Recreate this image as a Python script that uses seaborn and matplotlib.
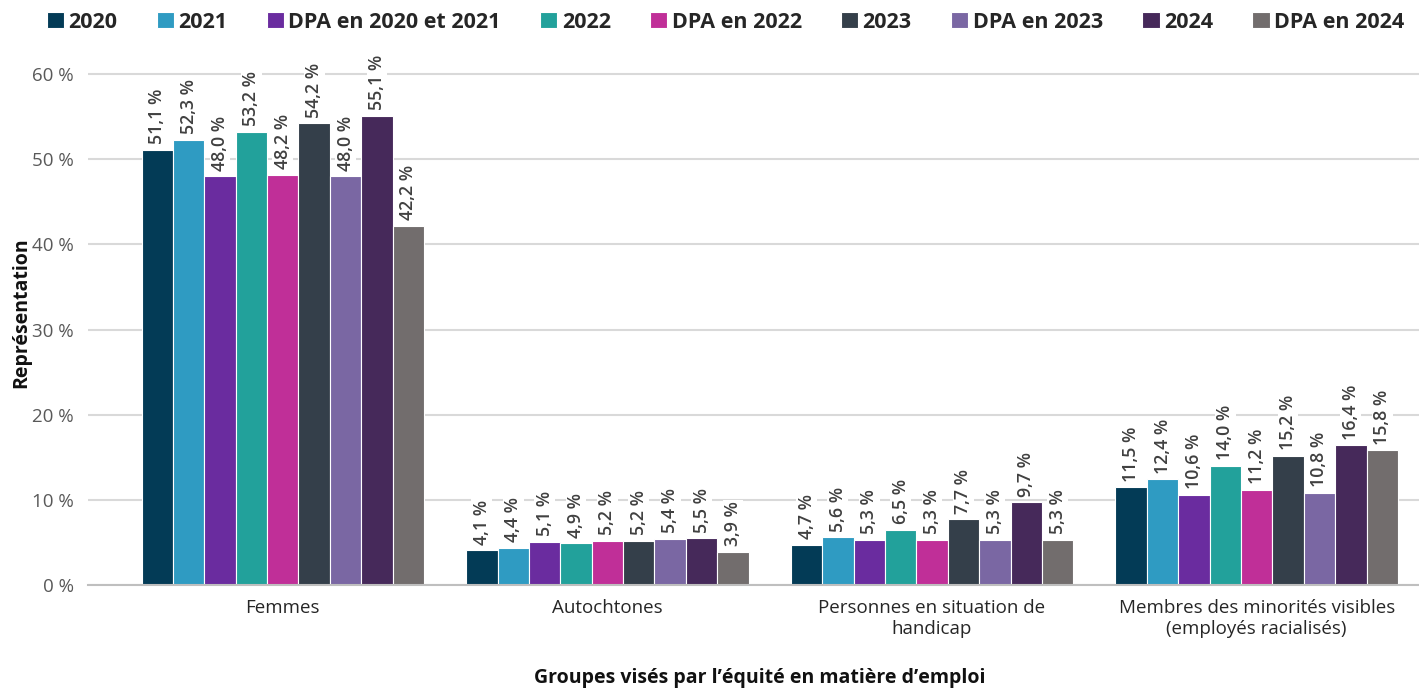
import pandas as pd
import matplotlib.pyplot as plt
import seaborn as sns
from matplotlib.ticker import FuncFormatter

# Data
groups = ['Femmes', 'Autochtones', 'Personnes en situation de\nhandicap',
          'Membres des minorités visibles\n(employés racialisés)']
series = ['2020', '2021', 'DPA en 2020 et 2021', '2022', 'DPA en 2022',
          '2023', 'DPA en 2023', '2024', 'DPA en 2024']
femmes = [51.1, 52.3, 48.0, 53.2, 48.2, 54.2, 48.0, 55.1, 42.2]
autochtones = [4.1, 4.4, 5.1, 4.9, 5.2, 5.2, 5.4, 5.5, 3.9]
handicap = [4.7, 5.6, 5.3, 6.5, 5.3, 7.7, 5.3, 9.7, 5.3]
minorites = [11.5, 12.4, 10.6, 14.0, 11.2, 15.2, 10.8, 16.4, 15.8]
colors = ['#033b56', '#2f9bc2', '#6a2c9f', '#22a19b', '#c02f98',
          '#343f4a', '#7a67a3', '#46295a', '#726d6d']

rows = []
for g, vals in zip(groups, [femmes, autochtones, handicap, minorites]):
    for s, v in zip(series, vals):
        rows.append({'Groupe': g, 'Série': s, 'Valeur': v})
df = pd.DataFrame(rows)

sns.set_style('white')
plt.rcParams['font.family'] = ['Open Sans', 'DejaVu Sans']

fig = plt.figure(figsize=(14.19, 6.91), dpi=100)
ax = fig.add_axes([88 / 1419, (691 - 585) / 691, (1419 - 88) / 1419, (585 - 40) / 691])

sns.barplot(data=df, x='Groupe', y='Valeur', hue='Série', hue_order=series,
            order=groups, palette=colors, saturation=1, width=0.87,
            edgecolor='white', linewidth=0.8, ax=ax, legend=True)

ax.set_xlim(-0.6, 3.5)
ax.set_ylim(0, 64)
ax.set_yticks(range(0, 61, 10))
ax.yaxis.set_major_formatter(FuncFormatter(lambda v, p: f'{int(v)} %'))
ax.grid(axis='y', color='#d9d9d9', linewidth=1.5)
ax.set_axisbelow(True)
for sp in ['top', 'right', 'left']:
    ax.spines[sp].set_visible(False)
ax.spines['bottom'].set_color('#bfbfbf')
ax.spines['bottom'].set_linewidth(1.5)
ax.tick_params(axis='both', length=0, labelsize=13.5, colors='#404040', pad=10)
ax.tick_params(axis='y', colors='#595959')
for t in ax.get_xticklabels():
    t.set_color('#262626')

for cont in ax.containers:
    labels = [f'{v:.1f} %'.replace('.', ',') for v in cont.datavalues]
    txts = ax.bar_label(cont, labels=labels, rotation=90, padding=4,
                        fontsize=12.8, color='#404040', fontweight='semibold')
    for t in txts:
        t.set_bbox(dict(facecolor='white', edgecolor='none', pad=1))

ax.set_ylabel('Représentation', fontsize=14, fontweight='bold', color='#111111')
ax.yaxis.set_label_coords(-(88 - 31) / 1331, 0.5)
ax.set_xlabel('Groupes visés par l\u2019équité en matière d\u2019emploi', fontsize=14,
              fontweight='bold', color='#111111')
ax.xaxis.set_label_coords((760 - 88) / 1331, -(678 - 585) / 545)
ax.xaxis.label.set_va('center')

handles, labels = ax.get_legend_handles_labels()
ax.legend(handles, labels, loc='center left', bbox_to_anchor=((47 - 88) / 1331, 1 + 18 / 545),
          ncol=9, frameon=False, handlelength=0.8, handleheight=0.8, handletextpad=0.2,
          columnspacing=1.83, prop={'size': 15.5, 'weight': 'bold'}, borderaxespad=0,
          borderpad=0)

fig.savefig('out.png', dpi=100)
